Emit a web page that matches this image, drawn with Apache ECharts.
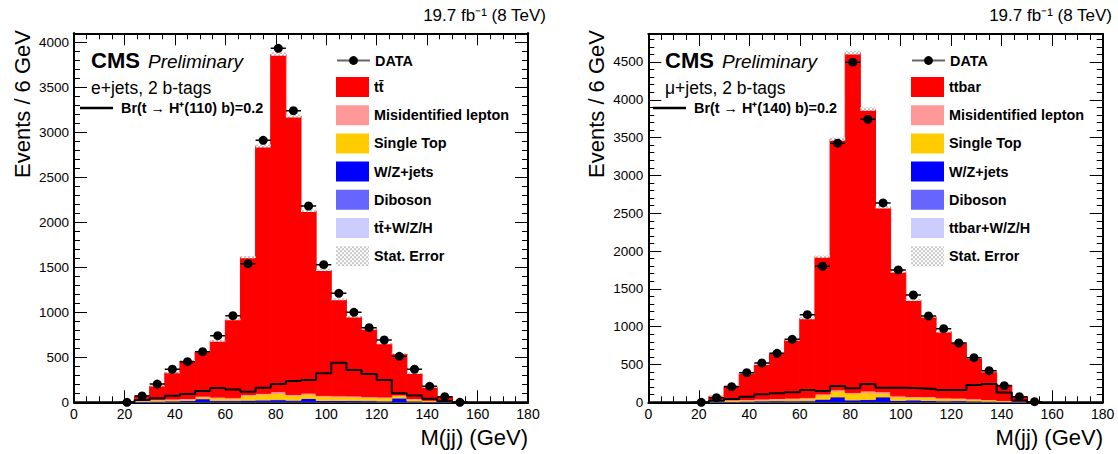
<!DOCTYPE html>
<html>
<head>
<meta charset="utf-8">
<script src="https://cdn.jsdelivr.net/npm/echarts@6/dist/echarts.min.js"></script>
<style>
  html, body { margin: 0; padding: 0; background: #fff; }
  #main { width: 1118px; height: 454px; }
</style>
</head>
<body>
<div id="main"></div>
<script>
'use strict';
// 6 GeV bins, 0..180
const binEdges = [0, 6, 12, 18, 24, 30, 36, 42, 48, 54, 60, 66, 72, 78, 84, 90, 96, 102, 108, 114, 120, 126, 132, 138, 144, 150, 156, 162, 168, 174, 180];

// ---- e+jets panel ----
const eData    = [null, null, null, 0, 70, 203, 367, 451, 563, 740, 962, 1540, 2911, 3933, 3240, 2181, 1529, 1211, 1000, 829, 692, 511, 367, 178, 63, 0, null, null, null, null];
const eTtbar   = [0, 0, 0, 0, 42, 149, 292, 417, 494, 622, 871, 1525, 2748, 3751, 3093, 2025, 1393, 1071, 880, 751, 593, 459, 279, 144, 50, 1, 0, 0, 0, 0];
const eMisid   = [0, 0, 0, 0, 12, 10, 10, 8, 10, 12, 10, 15, 15, 20, 15, 15, 12, 12, 12, 10, 10, 10, 8, 5, 3, 1, 0, 0, 0, 0];
const eSingleT = [0, 0, 0, 0, 8, 10, 12, 15, 20, 28, 22, 50, 60, 70, 50, 45, 45, 40, 40, 35, 35, 25, 20, 10, 4, 1, 0, 0, 0, 0];
const eWZjets  = [0, 0, 0, 0, 4, 6, 8, 12, 30, 10, 10, 12, 14, 18, 12, 32, 10, 10, 10, 10, 8, 40, 8, 4, 2, 1, 0, 0, 0, 0];
const eDiboson = [0, 0, 0, 0, 1, 2, 2, 2, 3, 3, 3, 3, 3, 3, 3, 3, 3, 3, 3, 2, 2, 2, 2, 1, 1, 0, 0, 0, 0, 0];
const eTtV     = [0, 0, 0, 0, 3, 4, 5, 5, 6, 6, 6, 7, 8, 8, 8, 8, 7, 7, 6, 6, 5, 5, 4, 3, 2, 1, 0, 0, 0, 0];
const eStatErr = [0, 0, 0, 0, 3, 5, 6, 7, 8, 8, 9, 12, 16, 19, 17, 14, 12, 10, 9, 8, 8, 7, 6, 4, 3, 1, 0, 0, 0, 0];
const eSignal  = [0, 0, 0, 0, 26, 44, 74, 92, 126, 159, 141, 118, 163, 204, 237, 248, 322, 440, 359, 315, 248, 100, 75, 40, 12, 0, 0, 0, 0, 0];

// ---- mu+jets panel ----
const muData    = [null, null, null, 0, 61, 207, 392, 520, 648, 833, 1159, 1799, 3426, 4497, 3743, 2636, 1750, 1419, 1141, 974, 784, 590, 418, 220, 75, 8, null, null, null, null];
const muTtbar   = [0, 0, 0, 0, 52, 183, 346, 458, 597, 768, 1049, 1815, 3313, 4493, 3727, 2438, 1643, 1276, 1056, 875, 731, 535, 368, 204, 61, 4, 0, 0, 0, 0];
const muMisid   = [0, 0, 0, 0, 15, 12, 10, 10, 10, 12, 12, 15, 15, 15, 25, 20, 15, 12, 12, 10, 10, 10, 8, 6, 4, 1, 0, 0, 0, 0];
const muSingleT = [0, 0, 0, 0, 6, 10, 12, 15, 20, 25, 30, 55, 80, 85, 90, 50, 45, 35, 40, 30, 25, 20, 15, 10, 4, 1, 0, 0, 0, 0];
const muWZjets  = [0, 0, 0, 0, 3, 5, 8, 12, 12, 10, 10, 30, 60, 20, 25, 60, 15, 20, 15, 10, 15, 10, 8, 5, 2, 1, 0, 0, 0, 0];
const muDiboson = [0, 0, 0, 0, 1, 2, 2, 2, 3, 3, 3, 3, 3, 3, 3, 3, 3, 3, 3, 3, 2, 2, 2, 1, 1, 0, 0, 0, 0, 0];
const muTtV     = [0, 0, 0, 0, 3, 4, 5, 5, 6, 6, 7, 8, 8, 8, 8, 8, 7, 7, 6, 6, 5, 5, 4, 3, 2, 1, 0, 0, 0, 0];
const muStatErr = [0, 0, 0, 0, 4, 6, 8, 9, 10, 11, 13, 16, 22, 26, 23, 18, 15, 13, 12, 11, 10, 9, 8, 6, 3, 1, 0, 0, 0, 0];
const muSignal  = [0, 0, 0, 0, 21, 44, 74, 106, 119, 132, 163, 150, 216, 185, 242, 194, 194, 185, 176, 163, 163, 229, 242, 130, 25, 0, 0, 0, 0, 0];

const FONT = '"Liberation Sans", Arial, Helvetica, sans-serif';
const stackColors = ['#ccccff', '#6666ff', '#0000ff', '#ffcc00', '#ff9999', '#ff0000'];

// light checker pattern for the stat. error band
const hatch = document.createElement('canvas');
hatch.width = 4; hatch.height = 4;
const hctx = hatch.getContext('2d');
hctx.fillStyle = '#ffffff'; hctx.fillRect(0, 0, 4, 4);
hctx.fillStyle = '#c8c8c8'; hctx.fillRect(0, 0, 2, 2); hctx.fillRect(2, 2, 2, 2);
const hatchFill = { image: hatch, repeat: 'repeat' };

function rectItem(params, api) {
  const p0 = api.coord([api.value(0), api.value(3)]);
  const p1 = api.coord([api.value(1), api.value(2)]);
  if (p1[1] - p0[1] < 0.01) return null;
  const c = api.visual('color');
  return {
    type: 'rect',
    shape: { x: p0[0], y: p0[1], width: p1[0] - p0[0], height: p1[1] - p0[1] },
    style: typeof c === 'string' ? { fill: c, stroke: c, lineWidth: 1 } : { fill: c }
  };
}

function panelSeries(xi, yi, comps, names, statErr, signal, data, sigName) {
  const out = [];
  const base = binEdges.slice(0, -1).map(() => 0);
  comps.forEach((vals, k) => {
    const d = vals.map((v, i) => [binEdges[i], binEdges[i + 1], base[i], base[i] + v]);
    vals.forEach((v, i) => { base[i] += v; });
    out.push({
      type: 'custom', name: names[k], xAxisIndex: xi, yAxisIndex: yi, z: 2,
      itemStyle: { color: stackColors[k] }, renderItem: rectItem, data: d, clip: true
    });
  });
  out.push({
    type: 'custom', name: 'Stat. Error', xAxisIndex: xi, yAxisIndex: yi, z: 3,
    itemStyle: { color: hatchFill }, renderItem: rectItem, clip: true,
    data: statErr.map((e, i) => [binEdges[i], binEdges[i + 1], base[i] - e, base[i] + e])
  });
  const step = signal.map((v, i) => [binEdges[i], v]);
  step.push([binEdges[binEdges.length - 1], signal[signal.length - 1]]);
  out.push({
    type: 'line', name: sigName, xAxisIndex: xi, yAxisIndex: yi, z: 4,
    step: 'end', symbol: 'none', data: step,
    lineStyle: { color: '#000', width: 2 }, itemStyle: { color: '#000' }
  });
  const pts = [];
  data.forEach((v, i) => { if (v !== null) pts.push([binEdges[i], binEdges[i + 1], v]); });
  out.push({
    type: 'custom', xAxisIndex: xi, yAxisIndex: yi, z: 5, clip: true,
    renderItem(params, api) {
      const a = api.coord([api.value(0), api.value(2)]);
      const b = api.coord([api.value(1), api.value(2)]);
      return { type: 'line', shape: { x1: a[0], y1: a[1], x2: b[0], y2: b[1] }, style: { stroke: '#000', lineWidth: 1.5 } };
    },
    data: pts
  });
  out.push({
    type: 'line', name: 'DATA', xAxisIndex: xi, yAxisIndex: yi, z: 6,
    symbol: 'circle', symbolSize: 9, showSymbol: true,
    itemStyle: { color: '#000' }, lineStyle: { color: '#666', width: 2, opacity: 0 },
    data: pts.map(p => [(p[0] + p[1]) / 2, p[2]])
  });
  return out;
}

function xAxisDef(grid, pos) {
  return {
    type: 'value', gridIndex: grid, position: pos, min: 0, max: 180, interval: 20,
    axisLine: { show: true, onZero: false, lineStyle: { color: '#000', width: 2 } },
    axisTick: { show: true, inside: true, length: 12, lineStyle: { color: '#000', width: 1 } },
    minorTick: { show: true, splitNumber: 4, length: 6, lineStyle: { color: '#000', width: 1 } },
    axisLabel: { show: pos === 'bottom', color: '#000', fontFamily: FONT, fontSize: 14, margin: 5 },
    splitLine: { show: false }
  };
}
function yAxisDef(grid, pos, max, interval, tickLen, labels) {
  return {
    type: 'value', gridIndex: grid, position: pos, min: 0, max: max, interval: interval,
    axisLine: { show: true, onZero: false, lineStyle: { color: '#000', width: 2 } },
    axisTick: { show: true, inside: true, length: tickLen, lineStyle: { color: '#000', width: 1 } },
    axisLabel: {
      show: labels, color: '#000', fontFamily: FONT, fontSize: 13.5, margin: 5,
      formatter: v => (v % 500 === 0 ? String(v) : '')
    },
    splitLine: { show: false }
  };
}

const names = ['tt\u0304+W/Z/H', 'Diboson', 'W/Z+jets', 'Single Top', 'Misidentified lepton', 'tt\u0304'];
const namesMu = ['ttbar+W/Z/H', 'Diboson', 'W/Z+jets', 'Single Top', 'Misidentified lepton', 'ttbar'];
const sigE = 'Br(t \u2192 H\u207A(110) b)=0.2';
const sigMu = 'Br(t \u2192 H\u207A(140) b)=0.2';

const legendText = { fontFamily: FONT, fontWeight: 'bold', fontSize: 14.4, color: '#000' };
function dataLegend(left) {
  return {
    left: left, top: 53.5, padding: 0, itemWidth: 33, itemHeight: 11, selectedMode: false,
    textStyle: legendText,
    data: [{ name: 'DATA', lineStyle: { opacity: 1, color: '#666', width: 2 } }]
  };
}
function stackLegend(left, list) {
  return {
    left: left, top: 77, padding: 0, orient: 'vertical', itemWidth: 33, itemHeight: 20, itemGap: 8.2,
    selectedMode: false, textStyle: legendText,
    data: list.slice().reverse().map(n => ({ name: n, icon: 'rect' }))
      .concat([{ name: 'Stat. Error', icon: 'rect' }])
  };
}
function sigLegend(left, name) {
  return {
    left: left, top: 101, padding: 0, itemWidth: 33, itemHeight: 2.5, selectedMode: false,
    textStyle: Object.assign({ padding: [0, 0, 0, 3] }, legendText),
    data: [{ name: name, icon: 'rect' }]
  };
}

function txt(x, y, text, font, align, rot) {
  return {
    type: 'text', x: x, y: y, rotation: rot || 0, z: 10,
    style: { text: text, font: font, fill: '#000', textAlign: align, textVerticalAlign: 'middle', align: align, verticalAlign: 'middle' }
  };
}

const chart = echarts.init(document.getElementById('main'), null, { renderer: 'svg' });
chart.setOption({
  animation: false,
  backgroundColor: '#fff',
  grid: [
    { left: 74, right: 590, top: 33.3, bottom: 51.7 },
    { left: 648.3, right: 15.3, top: 34, bottom: 51.7 }
  ],
  xAxis: [xAxisDef(0, 'bottom'), xAxisDef(0, 'top'), xAxisDef(1, 'bottom'), xAxisDef(1, 'top')],
  yAxis: [
    yAxisDef(0, 'left', 4100, 100, 6, true), yAxisDef(0, 'left', 4100, 500, 13, false),
    yAxisDef(0, 'right', 4100, 100, 6, false), yAxisDef(0, 'right', 4100, 500, 13, false),
    yAxisDef(1, 'left', 4870, 100, 6, true), yAxisDef(1, 'left', 4870, 500, 13, false),
    yAxisDef(1, 'right', 4870, 100, 6, false), yAxisDef(1, 'right', 4870, 500, 13, false)
  ],
  legend: [
    dataLegend(336), stackLegend(336, names), sigLegend(80, sigE),
    dataLegend(911), stackLegend(911, namesMu), sigLegend(653, sigMu)
  ],
  series: panelSeries(0, 0, [eTtV, eDiboson, eWZjets, eSingleT, eMisid, eTtbar], names, eStatErr, eSignal, eData, sigE)
    .concat(panelSeries(2, 4, [muTtV, muDiboson, muWZjets, muSingleT, muMisid, muTtbar], namesMu, muStatErr, muSignal, muData, sigMu)),
  graphic: [
    txt(546, 15, '19.7 fb\u207B\u00B9 (8 TeV)', '17px ' + FONT, 'right'),
    txt(1112, 15, '19.7 fb\u207B\u00B9 (8 TeV)', '17px ' + FONT, 'right'),
    txt(91, 60, 'CMS', 'bold 22px ' + FONT, 'left'),
    txt(148, 61, 'Preliminary', 'italic 19px ' + FONT, 'left'),
    txt(91, 88, 'e+jets, 2 b-tags', '17.5px ' + FONT, 'left'),
    txt(665, 60, 'CMS', 'bold 22px ' + FONT, 'left'),
    txt(722, 61, 'Preliminary', 'italic 19px ' + FONT, 'left'),
    txt(665, 88, '\u03BC+jets, 2 b-tags', '17.5px ' + FONT, 'left'),
    txt(22, 30, 'Events / 6 GeV', '22px ' + FONT, 'right', Math.PI / 2),
    txt(596, 30, 'Events / 6 GeV', '22px ' + FONT, 'right', Math.PI / 2),
    txt(528, 437, 'M(jj) (GeV)', '22px ' + FONT, 'right'),
    txt(1103, 437, 'M(jj) (GeV)', '22px ' + FONT, 'right')
  ]
});
window.onresize = () => { chart.resize(); };
</script>
</body>
</html>
